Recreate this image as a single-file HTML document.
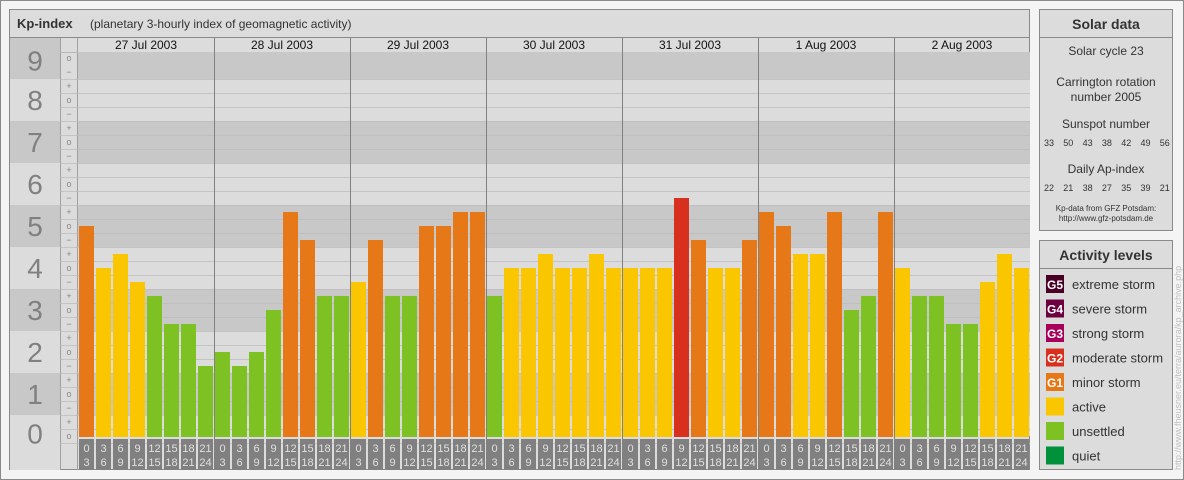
<!DOCTYPE html>
<html><head><meta charset="utf-8"><style>
body{margin:0;background:#f4f4f4;}
svg{display:block;font-family:"Liberation Sans",sans-serif;}
</style></head><body>
<svg width="1184" height="480" viewBox="0 0 1184 480">
<rect x="0.5" y="0.5" width="1183" height="479" fill="#f4f4f4" stroke="#8a8a8a"/>
<g id="main"></g>
<g id="side"></g>
</svg>
<script>
const days=["27 Jul 2003","28 Jul 2003","29 Jul 2003","30 Jul 2003","31 Jul 2003","1 Aug 2003","2 Aug 2003"];
// Kp values in thirds (e.g. 5o=15, 5+=16, 5-=14)
const kpDay1=[15,12,13,11,10,8,8,5];
const kpDay2=[6,5,6,9,16,14,10,10];
const kpDay3=[11,14,10,10,15,15,16,16];
const kpDay4=[10,12,12,13,12,12,13,12];
const kpDay5=[12,12,12,17,14,12,12,14];
const kpDay6=[16,15,13,13,16,9,10,16];
const kpDay7=[12,10,10,8,8,11,13,12];
const kpSeries=[kpDay1,kpDay2,kpDay3,kpDay4,kpDay5,kpDay6,kpDay7];
const hourStart=["0","3","6","9","12","15","18","21"];
const hourEnd=["3","6","9","12","15","18","21","24"];
const sunspots=["33","50","43","38","42","49","56"];
const apIndex=["22","21","38","27","35","39","21"];
const levelNames=["extreme storm","severe storm","strong storm","moderate storm","minor storm","active","unsettled","quiet"];
const levelTags=["G5","G4","G3","G2","G1","","",""];
const levelColors=["#4a0026","#6e0040","#a8005a","#d7301f","#e67817","#f9c600","#7dc123","#00913a"];

const NS="http://www.w3.org/2000/svg";
function mk(p,tag,at,txt){const e=document.createElementNS(NS,tag);for(const k in at)e.setAttribute(k,at[k]);if(txt!==undefined)e.textContent=txt;p.appendChild(e);return e;}
const main=document.getElementById('main'),side=document.getElementById('side');
const X0=78,X1=1030,BASE=436,UNIT=42;
const y=v=>BASE-v*UNIT;               // v in Kp units
const dayW=(X1-X0)/days.length, slotW=dayW/8;
const xs=(d,i)=>X0+d*dayW+i*slotW;

let e=mk(main,'rect',{x:9.5,y:9.5,width:1020,height:460,fill:'#dcdcdc',stroke:'#8a8a8a'});

mk(main,'line',{x1:9,y1:37.5,x2:1030,y2:37.5,stroke:'#8a8a8a'});
e=mk(main,'text',{x:17,y:28,'font-size':13,'font-weight':'bold',fill:'#333'},'Kp-index');

e=mk(main,'text',{x:90,y:28,'font-size':12,fill:'#333'},'(planetary 3-hourly index of geomagnetic activity)');

// bands
for(let n=0;n<=9;n++){
  const top=Math.max(38,y(n+0.5)),bot=n==0?470:y(n-0.5);
  const dark=n%2==1;
  mk(main,'rect',{x:10,y:top,width:50,height:bot-top,fill:dark?'#c8c8c8':'#dcdcdc'});
  mk(main,'rect',{x:X0,y:Math.max(52,top),width:X1-X0,height:(n==0?BASE:bot)-Math.max(52,top),fill:dark?'#c8c8c8':'#dcdcdc'});
  e=mk(main,'text',{x:35,y:(Math.max(42,top)+Math.min(bot,n==0?452:bot))/2+10,'font-size':28,fill:'#808080','text-anchor':'middle'},String(n));
  
}
mk(main,'line',{x1:60.5,y1:38,x2:60.5,y2:470,stroke:'#a0a0a0'});
mk(main,'line',{x1:X0-0.5,y1:38,x2:X0-0.5,y2:470,stroke:'#a0a0a0'});
mk(main,'line',{x1:60,y1:52.5,x2:X0,y2:52.5,stroke:'#b8b8b8'});
// third lines and tick marks
const sym=["o","+","\u2212"];
for(let t=27;t>=0;t--){
  const yy=y(t/3);
  if(t<27){mk(main,'line',{x1:60,y1:yy+7.5,x2:X1,y2:yy+7.5,stroke:'#bdbdbd','stroke-width':0.8});}
  e=mk(main,'text',{x:69,y:yy+3,'font-size':9,fill:'#888','text-anchor':'middle'},sym[t%3]);
  
}
// days
days.forEach((d,di)=>{
  const x=X0+di*dayW;
  if(di>0)mk(main,'line',{x1:x+0.5,y1:38,x2:x+0.5,y2:470,stroke:'#808080'});
  e=mk(main,'text',{x:x+dayW/2,y:49,'font-size':12,fill:'#111','text-anchor':'middle'},d);
  
  kpSeries[di].forEach((v,i)=>{
    const kp=v/3, cat=Math.round(kp);
    const col=cat>=9?levelColors[0]:cat>=8?levelColors[1]:cat>=7?levelColors[2]:cat>=6?levelColors[3]:cat>=5?levelColors[4]:cat>=4?levelColors[5]:cat>=2?levelColors[6]:levelColors[7];
    const b=mk(main,'rect',{x:xs(di,i)+1,y:y(kp),width:slotW-2,height:BASE+1-y(kp),fill:col});
    
    
    const bx=mk(main,'rect',{x:xs(di,i)+1,y:439,width:slotW-2,height:31,fill:'#808080'});
    
    
    mk(main,'text',{x:xs(di,i)+slotW/2,y:452,'font-size':11,fill:'#e0e0e0','text-anchor':'middle'},hourStart[i]);
    mk(main,'text',{x:xs(di,i)+slotW/2,y:466,'font-size':11,fill:'#e0e0e0','text-anchor':'middle'},hourEnd[i]);
  });
});
// side: solar data
e=mk(side,'rect',{x:1039.5,y:9.5,width:133,height:221,fill:'#dcdcdc',stroke:'#8a8a8a'});

mk(side,'line',{x1:1039,y1:37.5,x2:1173,y2:37.5,stroke:'#8a8a8a'});
const cx=1106;
e=mk(side,'text',{x:cx,y:29,'font-size':14,'font-weight':'bold',fill:'#333','text-anchor':'middle'},'Solar data');

[['Solar cycle 23',55],['Carrington rotation',86],['number 2005',101],['Sunspot number',128],['Daily Ap-index',173]].forEach(([t,yy])=>{
  const q=mk(side,'text',{x:cx,y:yy,'font-size':12,fill:'#333','text-anchor':'middle'},t);
  
});
sunspots.forEach((s,i)=>{const q=mk(side,'text',{x:1049+i*19.3,y:146,'font-size':9,fill:'#333','text-anchor':'middle'},s);
  });
apIndex.forEach((s,i)=>{const q=mk(side,'text',{x:1049+i*19.3,y:191,'font-size':9,fill:'#333','text-anchor':'middle'},s);
  });
mk(side,'text',{x:cx,y:211,'font-size':8,fill:'#333','text-anchor':'middle'},'Kp-data from GFZ Potsdam:');
mk(side,'text',{x:cx,y:221,'font-size':8,fill:'#333','text-anchor':'middle'},'http://www.gfz-potsdam.de');
// activity levels
e=mk(side,'rect',{x:1039.5,y:240.5,width:133,height:229,fill:'#dcdcdc',stroke:'#8a8a8a'});

mk(side,'line',{x1:1039,y1:268.5,x2:1173,y2:268.5,stroke:'#8a8a8a'});
e=mk(side,'text',{x:cx,y:260,'font-size':14,'font-weight':'bold',fill:'#333','text-anchor':'middle'},'Activity levels');

levelNames.forEach((n,i)=>{
  const yy=275+i*24.5;
  const g=mk(side,'g',{});
  
  
  mk(g,'rect',{x:1046,y:yy,width:18,height:18,fill:levelColors[i]});
  if(levelTags[i])mk(g,'text',{x:1055,y:yy+14,'font-size':12,'font-weight':'bold',fill:'#fff','text-anchor':'middle'},levelTags[i]);
  mk(g,'text',{x:1072,y:yy+14,'font-size':13,fill:'#333'},n);
});
e=mk(side,'text',{x:1181,y:470,'font-size':9,fill:'#c0c0c0',transform:'rotate(-90 1181 470)'},'http://www.fheusner.eu/terra/aurora/kp_archive.php');

</script>
</body></html>
